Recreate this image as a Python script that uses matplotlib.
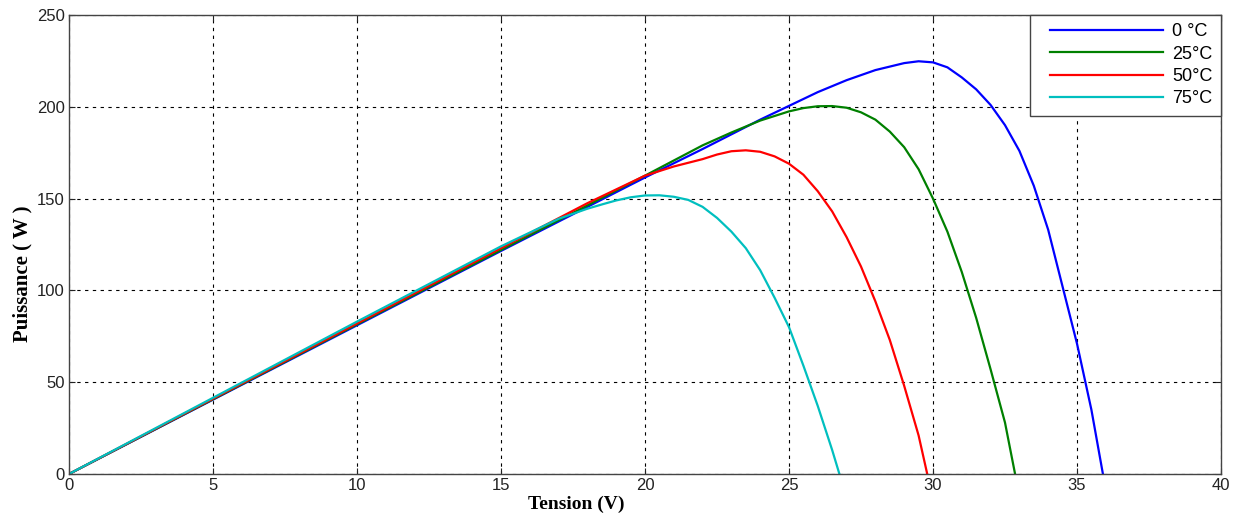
import numpy as np
import matplotlib.pyplot as plt
from matplotlib.legend_handler import HandlerLine2D

# Tension (V) / Puissance (W)
v_0 = [0, 5, 10, 15, 20, 22, 24, 25, 26, 27, 28, 29, 29.5, 30, 30.5, 31, 31.5,
       32, 32.5, 33, 33.5, 34, 34.5, 35, 35.5, 35.9]
p_0 = [0, 40.5, 81, 121.5, 161.5, 177, 193, 200.5, 208, 214.5, 220, 223.8, 224.8,
       224.2, 221.5, 216, 209.5, 201, 190, 176, 157, 133, 102, 71, 35, 0]

v_25 = [0, 5, 10, 15, 20, 22, 23, 24, 25, 25.5, 26, 26.5, 27, 27.5, 28, 28.5, 29,
        29.5, 30, 30.5, 31, 31.5, 32, 32.5, 32.85]
p_25 = [0, 40.7, 81.5, 122, 162.5, 179, 186, 192.5, 197.5, 199.3, 200.3, 200.4,
        199.5, 197, 193, 186.5, 178, 166, 150, 132, 110, 85, 57, 28, 0]

v_50 = [0, 5, 10, 15, 18, 20, 21, 22, 22.5, 23, 23.5, 24, 24.5, 25, 25.5, 26, 26.5,
        27, 27.5, 28, 28.5, 29, 29.5, 29.8]
p_50 = [0, 41, 82, 123, 147.5, 162.5, 167.5, 171.5, 174, 175.8, 176.3, 175.5, 173,
        169, 163, 154, 143, 129, 113, 94, 73, 48, 21, 0]

v_75 = [0, 5, 10, 15, 17, 18, 18.5, 19, 19.5, 20, 20.5, 21, 21.5, 22, 22.5, 23, 23.5,
        24, 24.5, 25, 25.5, 26, 26.5, 26.75]
p_75 = [0, 41.5, 83, 124, 139, 144.5, 146.8, 149, 150.7, 151.7, 151.8, 151, 149.3,
        145.5, 139.5, 132, 123, 111, 96, 80, 59, 37, 13, 0]

labels = ["0 \u00b0C", "25\u00b0C", "50\u00b0C", "75\u00b0C"]
colors = ["#0000ff", "#008000", "#ff0000", "#00bfbf"]

fig = plt.figure(figsize=(12.44, 5.17), dpi=100)
ax = fig.add_axes([69 / 1244, 43 / 517, 1152 / 1244, 459 / 517])

for v, p, lab, c in zip([v_0, v_25, v_50, v_75], [p_0, p_25, p_50, p_75], labels, colors):
    ax.plot(v, p, color=c, lw=1.6, label=lab)

ax.set_xlim(0, 40)
ax.set_ylim(0, 250)
ax.set_xticks(np.arange(0, 41, 5))
ax.set_yticks(np.arange(0, 251, 50))
ax.grid(True, color="black", linestyle=(0, (3, 4)), linewidth=0.8)
ax.tick_params(direction="in", top=True, right=True, labelsize=12, colors="#222222",
               length=4, pad=3)
for lab in ax.get_xticklabels() + ax.get_yticklabels():
    lab.set_family("Liberation Sans")
for s in ax.spines.values():
    s.set_color("#444444")
    s.set_linewidth(1.0)

ax.set_xlabel("Tension (V)", family="Liberation Serif", fontweight="bold", fontsize=14)
ax.set_ylabel("Puissance ( W )", family="Liberation Serif", fontweight="bold", fontsize=15)
ax.xaxis.set_label_coords(0.44, -0.047)
ax.yaxis.set_label_coords(-0.032, 0.436)

leg = ax.legend(loc="upper right", borderaxespad=0, handlelength=6.9, fancybox=False,
                framealpha=1, edgecolor="#444444", prop={"family": "Liberation Sans", "size": 13},
                labelspacing=0.3, handletextpad=0.55, borderpad=0.45,
                handler_map={plt.Line2D: HandlerLine2D(xpad=0.67)})
leg.get_frame().set_linewidth(1.0)

fig.savefig("out.png", dpi=100)
